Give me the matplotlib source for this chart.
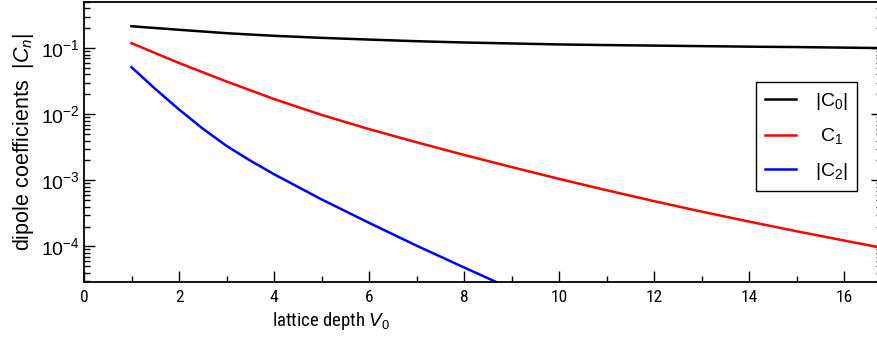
import matplotlib
matplotlib.use('Agg')
import matplotlib.pyplot as plt
from matplotlib.ticker import MultipleLocator, LogLocator, NullFormatter

# lattice depth V0 and the dipole coefficients read at each depth
V0 = [1, 1.5, 2, 2.5, 3, 3.5, 4, 5, 6, 7, 8, 9, 10, 11, 12, 13, 14, 15, 16, 17]
C0_abs = [0.215, 0.202, 0.190, 0.179, 0.1686, 0.161, 0.154, 0.1435, 0.135, 0.1276,
          0.122, 0.118, 0.114, 0.1115, 0.1095, 0.1075, 0.1055, 0.104, 0.102, 0.100]
C1 = [0.119, 0.0843, 0.0597, 0.0433, 0.0313, 0.0231, 0.0170, 9.79e-3, 5.97e-3, 3.77e-3,
      2.43e-3, 1.59e-3, 1.054e-3, 7.10e-4, 4.85e-4, 3.37e-4, 2.38e-4, 1.70e-4, 1.23e-4, 8.95e-5]
C2_abs = [0.0516, 0.0242, 0.01183, 6.07e-3, 3.33e-3, 1.99e-3, 1.24e-3, 5.16e-4, 2.28e-4,
          1.03e-4, 4.82e-5, 2.28e-5]

labels = [r'$\mathregular{|C_0|}$', r'$\mathregular{\ C_1}$', r'$\mathregular{|C_2|}$']
colors = ['black', 'red', 'blue']

NARROW = ['Roboto Condensed', 'Liberation Sans', 'DejaVu Sans']

plt.rcParams['font.family'] = ['Liberation Sans', 'DejaVu Sans']
plt.rcParams['mathtext.fontset'] = 'custom'
plt.rcParams['mathtext.rm'] = 'Liberation Sans'
plt.rcParams['mathtext.it'] = 'Liberation Sans:italic'

fig = plt.figure(figsize=(8.77, 3.45), dpi=100)
# the right edge of the frame sits just past the figure border
ax = fig.add_axes([84 / 877, 63 / 345, 798 / 877, 280 / 345])

ax.plot(V0, C0_abs, color=colors[0], lw=1.8, label=labels[0])
ax.plot(V0, C1, color=colors[1], lw=1.8, label=labels[1])
ax.plot(V0[:len(C2_abs)], C2_abs, color=colors[2], lw=1.8, label=labels[2])

ax.set_yscale('log')
ax.set_xlim(0, 16.8)
ax.set_ylim(2.9e-5, 0.5)

ax.xaxis.set_major_locator(MultipleLocator(2))
ax.xaxis.set_minor_locator(MultipleLocator(1))
ax.yaxis.set_major_locator(LogLocator(base=10))
ax.yaxis.set_minor_locator(LogLocator(base=10, subs=range(2, 10)))
ax.yaxis.set_minor_formatter(NullFormatter())

ax.tick_params(axis='both', which='major', direction='in', length=8, width=1)
ax.tick_params(axis='both', which='minor', direction='in', length=4, width=1)
ax.tick_params(axis='y', which='both', right=True)
ax.tick_params(axis='x', which='major', pad=6)
ax.tick_params(axis='y', which='major', pad=3, labelsize=14)
for lab in ax.get_xticklabels():
    lab.set_fontfamily(NARROW)
    lab.set_fontsize(12.5)
for sp in ax.spines.values():
    sp.set_linewidth(1.3)

ax.set_xlabel(r'lattice depth $V_0$', fontsize=13.5, family=NARROW)
ax.xaxis.set_label_coords((331 - 84) / 798, -0.1)
ax.set_ylabel(r'dipole coefficients  $|C_n|$', fontsize=15.5)
ax.yaxis.set_label_coords(-0.06, 0.5)

leg = ax.legend(loc='upper left', bbox_to_anchor=(756 / 877, 1 - 82 / 345),
                bbox_transform=fig.transFigure, fontsize=14, frameon=True,
                fancybox=False, framealpha=1, edgecolor='black',
                handlelength=1.6, labelspacing=0.75, borderpad=0.45,
                handletextpad=1.0, borderaxespad=0)
leg.get_frame().set_linewidth(1.0)

fig.savefig('out.png', dpi=100)
